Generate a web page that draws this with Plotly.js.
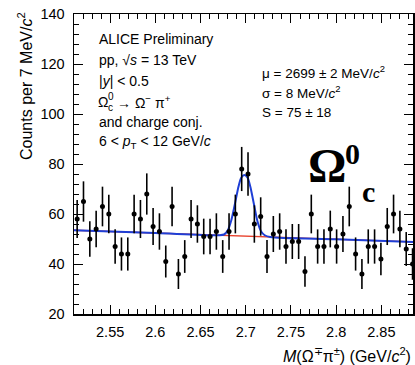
<!DOCTYPE html>
<html>
<head>
<meta charset="utf-8">
<script src="https://cdn.plot.ly/plotly-3.0.1.min.js"></script>
<style>html,body{margin:0;padding:0;background:#fff;}#chart{width:415px;height:365px;}</style>
</head>
<body>
<div id="chart"></div>
<script>
// Bin centres (GeV/c^2), 7 MeV bins
const massBins = [2.5135, 2.5205, 2.5275, 2.5345, 2.5415, 2.5485, 2.5555, 2.5625, 2.5695, 2.5765,
  2.5835, 2.5905, 2.5975, 2.6045, 2.6115, 2.6185, 2.6255, 2.6325, 2.6395, 2.6465,
  2.6535, 2.6605, 2.6675, 2.6745, 2.6815, 2.6885, 2.6955, 2.7025, 2.7095, 2.7165,
  2.7235, 2.7305, 2.7375, 2.7445, 2.7515, 2.7585, 2.7655, 2.7725, 2.7795, 2.7865,
  2.7935, 2.8005, 2.8075, 2.8145, 2.8215, 2.8285, 2.8355, 2.8425, 2.8495, 2.8565,
  2.8635, 2.8705, 2.8775, 2.8845];
// Counts per bin
const counts = [58, 65, 50, 54, 63, 60, 47, 44, 44, 60,
  58, 68, 55, 53, 41, 63, 36, 43, 58, 56,
  51, 51, 53, 43, 53, 60, 78, 76, 56, 59,
  43, 52, 53, 47, 49, 49, 37, 60, 47, 47,
  54, 47, 52, 63, 44, 36, 47, 47, 42, 55,
  60, 54, 46, 40];
// Background fit (red line)
const bkgMass = [2.51, 2.885];
const bkgVal = [53.5, 48.85];
// Total fit (blue curve)
const fitMass = [2.510, 2.600, 2.670, 2.676, 2.680, 2.684, 2.688, 2.692, 2.695, 2.6985, 2.702, 2.705, 2.709, 2.713, 2.717, 2.721, 2.727, 2.800, 2.885];
const fitVal  = [53.5, 52.38, 51.5, 51.8, 53.4, 57.5, 64.0, 71.0, 74.5, 75.6, 74.5, 71.0, 64.0, 57.0, 53.0, 51.5, 50.8, 49.9, 48.85];

const xTickVals = [2.55, 2.6, 2.65, 2.7, 2.75, 2.8, 2.85];
const xTickText = ['2.55', '2.6', '2.65', '2.7', '2.75', '2.8', '2.85'];
const yTickVals = [20, 40, 60, 80, 100, 120, 140];

const W = 415, H = 365, L = 74, R = 2, T = 14, B = 51;
const pw = W - L - R, ph = H - T - B;
const px = x => (x - L) / pw;
const py = y => (H - B - y) / ph;

const font = 'Liberation Sans, Arial, Helvetica, sans-serif';
const serif = 'Liberation Serif, Times New Roman, serif';

const traces = [
  {x: bkgMass, y: bkgVal, type: 'scatter', mode: 'lines', line: {color: '#e8412c', width: 1.3}, hoverinfo: 'skip'},
  {x: fitMass, y: fitVal, type: 'scatter', mode: 'lines', line: {color: '#1f3fd6', width: 2, shape: 'spline', smoothing: 0.8}, hoverinfo: 'skip'},
  {x: massBins, y: counts, type: 'scatter', mode: 'markers',
   marker: {color: '#000', size: 5, symbol: 'circle'},
   error_y: {type: 'sqrt', visible: true, color: '#000', thickness: 1.6, width: 0}}
];

function txt(x, y, text, size, opts) {
  return Object.assign({xref: 'paper', yref: 'paper', x: px(x), y: py(y), text: text, showarrow: false,
    xanchor: 'left', yanchor: 'middle', font: {family: font, size: size, color: '#000'}}, opts || {});
}

const annotations = [
  txt(97, 39, 'ALICE Preliminary', 14),
  txt(97, 60, 'pp, √<i>s</i> = 13 TeV', 14),
  txt(97, 81, '|<i>y</i>| < 0.5', 14),
  txt(96, 102, 'Ω', 14),
  txt(106, 97, '0', 10),
  txt(106, 107, 'c', 10),
  txt(115, 102, '→ Ω<sup>−</sup> π<sup>+</sup>', 14),
  txt(97, 122, 'and charge conj.', 14),
  txt(97, 142, '6 < <i>p</i><sub>T</sub> < 12 GeV/<i>c</i>', 14),
  txt(260, 72, 'μ = 2699 ± 2 MeV/<i>c</i><sup>2</sup>', 13.5),
  txt(260, 92, 'σ = 8 MeV/<i>c</i><sup>2</sup>', 13.5),
  txt(260, 112, 'S = 75 ± 18', 13.5),
  txt(327, 166, '<b>Ω</b>', 48, {xanchor: 'center', font: {family: serif, size: 48, color: '#000'}}),
  txt(352, 153, '<b>0</b>', 30, {xanchor: 'center', font: {family: serif, size: 30, color: '#000'}}),
  txt(368, 191, '<b>c</b>', 30, {xanchor: 'center', font: {family: serif, size: 30, color: '#000'}}),
  txt(413, 355, '<i>M</i>(Ω<sup>∓</sup>π<sup>±</sup>) (GeV/<i>c</i><sup>2</sup>)', 16, {xanchor: 'right'}),
  txt(25, 10, 'Counts per 7 MeV/<i>c</i><sup>2</sup>', 16, {xanchor: 'center', yanchor: 'top', textangle: -90})
];

const layout = {
  width: W, height: H,
  margin: {l: L, r: R, t: T, b: B, pad: 0},
  paper_bgcolor: '#fff', plot_bgcolor: '#fff',
  showlegend: false,
  font: {family: font, size: 14, color: '#000'},
  xaxis: {
    range: [2.51, 2.885], tickmode: 'array', tickvals: xTickVals, ticktext: xTickText,
    ticks: 'inside', ticklen: 9, tickwidth: 1, tickcolor: '#000',
    minor: {dtick: 0.01, tick0: 2.5, ticks: 'inside', ticklen: 5, tickwidth: 1, tickcolor: '#000'},
    showline: true, linecolor: '#000', linewidth: 1.5, mirror: 'allticks',
    showgrid: false, zeroline: false, tickfont: {family: font, size: 14.5}, ticklabelstandoff: 4
  },
  yaxis: {
    range: [20, 140], tickmode: 'array', tickvals: yTickVals,
    ticks: 'inside', ticklen: 9, tickwidth: 1, tickcolor: '#000',
    minor: {dtick: 4, tick0: 20, ticks: 'inside', ticklen: 5, tickwidth: 1, tickcolor: '#000'},
    showline: true, linecolor: '#000', linewidth: 1.5, mirror: 'allticks',
    showgrid: false, zeroline: false, tickfont: {family: font, size: 14.5}, ticklabelstandoff: 5
  },
  annotations: annotations
};

Plotly.newPlot('chart', traces, layout, {staticPlot: true, displayModeBar: false});
</script>
</body>
</html>
